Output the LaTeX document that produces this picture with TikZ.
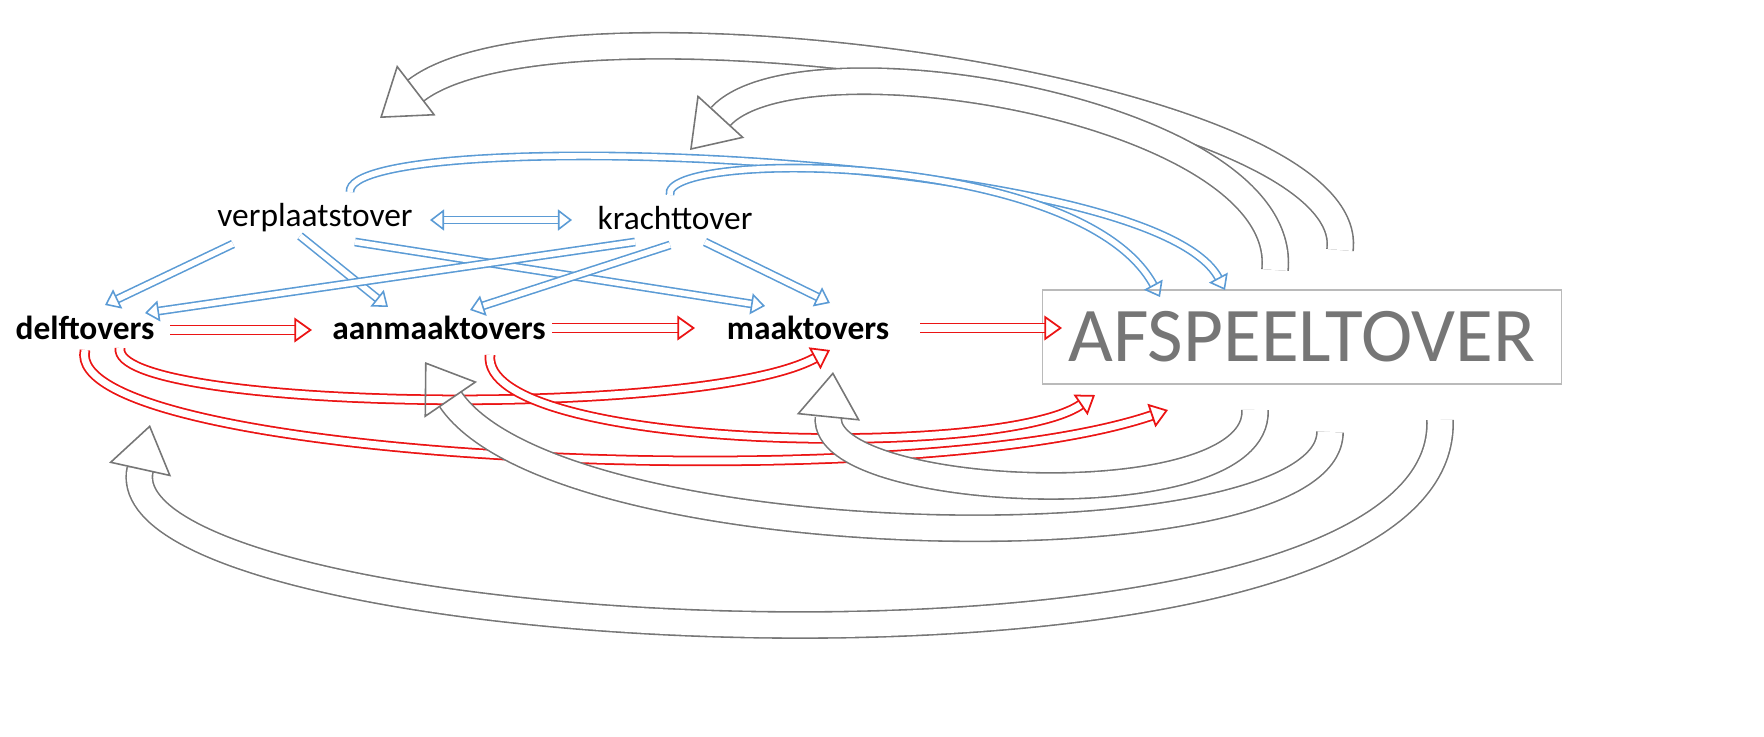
\documentclass[tikz,border=0pt]{standalone}
\usepackage{fontspec}
\setmainfont{Carlito}
\usetikzlibrary{arrows.meta,positioning}

\definecolor{spellblue}{RGB}{91,155,213}
\definecolor{spellred}{RGB}{235,20,20}
\definecolor{spellgray}{RGB}{118,118,118}

\tikzset{
  spell/.style={font=\fontsize{9.5}{11}\selectfont},
  kind/.style={font=\fontsize{9.5}{11}\selectfont\bfseries},
  bluearrow/.style={draw=spellblue,line width=0.45pt,double=white,double distance=1.6pt,
    -{Triangle[open,length=4pt,width=6pt]}},
  redarrow/.style={draw=spellred,line width=0.5pt,double=white,double distance=2pt,
    -{Triangle[open,length=5pt,width=7pt]}},
  grayarrow/.style={draw=spellgray,line width=0.45pt,double=white,double distance=7pt,
    -{Triangle[open,length=13pt,width=18pt]}}
}

\begin{document}
\begin{tikzpicture}[x=0.01cm,y=-0.01cm]
\useasboundingbox (0,0) rectangle (1764,736);

  % spells
  \node[spell] (verplaats) at (315,218) {verplaatstover};
  \node[spell] (kracht) at (675,218) {krachttover};

  % kinds
  \node[kind] (delf) at (85,328) {delftovers};
  \node[kind] (aanmaak) at (439,328) {aanmaaktovers};
  \node[kind] (maak) at (808,328) {maaktovers};

  % target
  \node[draw=spellgray!50,line width=0.45pt,text=spellgray,minimum width=5.19cm,
    minimum height=0.94cm,font=\fontsize{22}{24}\selectfont] (afspeel) at (1302,337) {AFSPEELTOVER};

  % blue links
  \draw[bluearrow,{Triangle[open,length=4pt,width=6pt]}-{Triangle[open,length=4pt,width=6pt]}]
    ([shift={(115,2)}]verplaats.center) -- ([shift={(-103,2)}]kracht.center);
  \draw[bluearrow] ([shift={(-82,26)}]verplaats.center) -- ([shift={(20,-23)}]delf.center);
  \draw[bluearrow] ([shift={(-15,18)}]verplaats.center) -- ([shift={(-51,-21)}]aanmaak.center);
  \draw[bluearrow] ([shift={(40,24)}]verplaats.center) -- ([shift={(-43,-22)}]maak.center);
  \draw[bluearrow] ([shift={(-40,24)}]kracht.center) -- ([shift={(60,-15)}]delf.center);
  \draw[bluearrow] ([shift={(-5,27)}]kracht.center) -- ([shift={(31,-18)}]aanmaak.center);
  \draw[bluearrow] ([shift={(30,24)}]kracht.center) -- ([shift={(22,-25)}]maak.center);
  \draw[bluearrow] ([shift={(35,-26)}]verplaats.center) .. controls (345,125) and (1150,150) .. ([shift={(-77,-47)}]afspeel.center);
  \draw[bluearrow] ([shift={(-5,-23)}]kracht.center) .. controls (660,150) and (1080,150) .. ([shift={(-142,-40)}]afspeel.center);

  % red links
  \draw[redarrow] ([shift={(85,2)}]delf.center) -- ([shift={(-127,2)}]aanmaak.center);
  \draw[redarrow] ([shift={(113,0)}]aanmaak.center) -- ([shift={(-113,0)}]maak.center);
  \draw[redarrow] ([shift={(112,0)}]maak.center) -- ([shift={(-240,-9)}]afspeel.center);
  \draw[redarrow] ([shift={(35,20)}]delf.center) .. controls (110,410) and (700,420) .. ([shift={(22,22)}]maak.center);
  \draw[redarrow] ([shift={(51,27)}]aanmaak.center) .. controls (480,450) and (1000,460) .. ([shift={(-207,58)}]afspeel.center);
  \draw[redarrow] ([shift={(0,22)}]delf.center) .. controls (60,460) and (900,500) .. ([shift={(-134,73)}]afspeel.center);

  % gray links
  \draw[grayarrow] ([shift={(38,-87)}]afspeel.center) .. controls (1360,90) and (560,-20) .. ([shift={(65,-100)}]verplaats.center);
  \draw[grayarrow] ([shift={(-27,-67)}]afspeel.center) .. controls (1290,110) and (800,30) .. ([shift={(15,-68)}]kracht.center);
  \draw[grayarrow] ([shift={(138,83)}]afspeel.center) .. controls (1450,720) and (100,650) .. ([shift={(65,97)}]delf.center);
  \draw[grayarrow] ([shift={(28,95)}]afspeel.center) .. controls (1330,570) and (560,560) .. ([shift={(-14,34)}]aanmaak.center);
  \draw[grayarrow] ([shift={(-47,73)}]afspeel.center) .. controls (1260,520) and (820,500) .. ([shift={(25,44)}]maak.center);
\end{tikzpicture}
\end{document}
